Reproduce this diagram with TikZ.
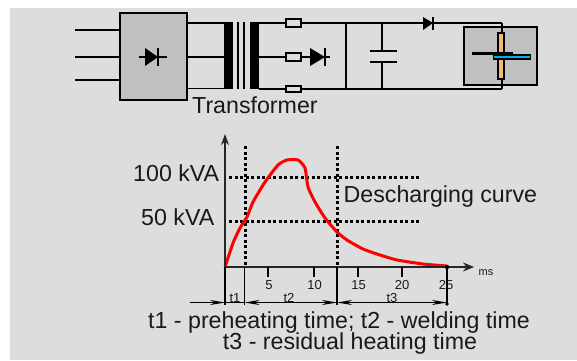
\documentclass[tikz,border=0pt]{standalone}
\usepackage{fontspec}
\setmainfont{Liberation Sans}
\usetikzlibrary{arrows.meta}
\definecolor{bggray}{HTML}{DDDDDD}
\definecolor{boxgray}{HTML}{C0C0C0}
\definecolor{plate}{HTML}{F5B874}
\definecolor{tip}{HTML}{00B0E0}
\newcommand{\fs}[1]{\fontsize{#1pt}{#1pt}\selectfont}
\tikzset{
  wire/.style={draw=black,line width=1.6pt},
  graybox/.style={draw=black,line width=1.8pt,fill=boxgray,inner sep=0pt,outer sep=0pt},
  res/.style={draw=black,line width=1.6pt,fill=bggray,minimum width=15pt,inner sep=0pt,outer sep=0pt},
  corebar/.style={fill=black,inner sep=0pt,outer sep=0pt,minimum width=9pt,minimum height=67pt},
  dio/.style={fill=black},
  label/.style={inner sep=0pt,text=black!90},
  big/.style={label,font=\fs{23.2}},
  small/.style={label,font=\fs{13}},
  axis/.style={draw=black!85,line width=1.7pt},
  dots/.style={draw=black,line width=3pt,dash pattern=on 3pt off 2.5pt},
  spanline/.style={draw=black,line width=1.7pt},
  tick/.style={draw=black,line width=1.7pt}
}
\begin{document}
\begin{tikzpicture}[x=1pt,y=-1pt]
\useasboundingbox (0,0) rectangle (577,360);
\fill[bggray] (10,8) rectangle (577,360);
% rectifier
\node[graybox,minimum width=67pt,minimum height=87pt] (rect) at (153.5,56.5) {};
\coordinate (inA) at (75,30); \coordinate (inB) at (75,57); \coordinate (inC) at (75,80);
\draw[wire] (inA) -- (inA -| rect.west);
\draw[wire] (inB) -- (inB -| rect.west);
\draw[wire] (inC) -- (inC -| rect.west);
\coordinate (dl) at (139,57); \coordinate (dr) at (167,57);
\draw[wire] (dl) -- (dr);
\fill[dio] (145,48) -- (158,57) -- (145,66) -- cycle;
\draw[line width=1.7pt] (158,48) -- (158,66);
% transformer
\node[corebar] (coreL) at (228.5,55.5) {};
\node[corebar] (coreR) at (254.5,55.5) {};
\coordinate (mid1t) at (238,22); \coordinate (mid1b) at (238,89);
\coordinate (mid2t) at (244,22); \coordinate (mid2b) at (244,89);
\draw[wire] (mid1t) -- (mid1b);
\draw[wire] (mid2t) -- (mid2b);
\coordinate (rt) at (187,23); \coordinate (rb) at (187,88.5);
\draw[wire] (rt) -- (rt -| coreL.west);
\draw[wire] (rect.east |- inB) -- (inB -| coreL.west);
\draw[wire] (rb) -- (rb -| coreL.west);
% resistors
\node[res,minimum height=8pt] (r1) at (293.5,23) {};
\node[res,minimum height=8pt] (r2) at (293.5,57) {};
\node[res,minimum height=6pt] (r3) at (293.5,89) {};
\draw[wire] (coreR.east |- r1) -- (r1.west);
\draw[wire] (coreR.east |- r2) -- (r2.west);
\draw[wire] (coreR.east |- r3) -- (r3.west);
% mid diode
\coordinate (d2end) at (330,57);
\draw[wire] (r2.east) -- (d2end);
\fill[dio] (310,48) -- (325,57) -- (310,66) -- cycle;
\draw[line width=1.7pt] (325,48) -- (325,66);
% bus
\coordinate (busT) at (502,23); \coordinate (busB) at (502,89);
\draw[wire] (r1.east) -- (busT);
\draw[wire] (r3.east) -- (busB);
\coordinate (barT) at (346,23); \coordinate (barB) at (346,89);
\draw[wire] (barT) -- (barB);
% capacitor
\coordinate (capT) at (382,23); \coordinate (capB) at (382,89);
\coordinate (cap1) at (382,51); \coordinate (cap2) at (382,62);
\draw[wire] (capT) -- (cap1);
\draw[wire] (cap2) -- (capB);
\draw[line width=1.7pt] (370,51) -- (397,51);
\draw[line width=1.7pt] (370,62) -- (397,62);
% top diode
\fill[dio] (423,17) -- (433,23) -- (423,30) -- cycle;
\draw[line width=1.7pt] (433,17) -- (433,30);
% welder
\node[graybox,minimum width=73pt,minimum height=58pt] (weld) at (500.5,56) {};
\node[draw=black,line width=1.7pt,fill=plate,minimum width=6pt,minimum height=46pt,inner sep=0pt] (elec) at (501,56) {};
\draw[wire] (busT) -- (elec.north -| busT);
\draw[wire] (busB) -- (elec.south -| busB);
\draw[line width=3pt,black] (472,53.5) -- (513,53.5);
\node[draw=black,line width=1.7pt,fill=tip,minimum width=37pt,minimum height=3.5pt,inner sep=0pt] (sheet) at (512,57) {};
% Transformer label
\node[big,anchor=base west] (tr) at (192,113) {Transformer};
% axes
\coordinate (org) at (225,267);
\coordinate (ytop) at (225,134);
\coordinate (xend) at (474,267);
% dotted
\coordinate (v1t) at (245,146); \coordinate (v1b) at (245,267);
\coordinate (v2t) at (337,146); \coordinate (v2b) at (337,267);
\coordinate (h1l) at (229,177); \coordinate (h1r) at (419,177);
\coordinate (h2l) at (229,221); \coordinate (h2r) at (419,221);
\draw[dots] (v1t) -- (v1b);
\draw[dots] (v2t) -- (v2b);
\draw[dots] (h1l) -- (h1r);
\draw[dots] (h2l) -- (h2r);
% curve
\draw[red,line width=3pt,line join=round] plot[smooth,tension=0.35] coordinates {
(225,267) (233,243) (240,228) (247,217) (253,202) (265,182) (278,165) (287,160) (298,160) (305,168) (308,187) (315,202) (325,218) (337,232) (347,240) (363,249) (380,255) (397,260) (423,264) (447,266)};
\draw[axis,-{Stealth[length=11pt,width=8pt]}] (org) -- (ytop);
\draw[axis,-{Stealth[length=11pt,width=9pt]}] (org) -- (xend);
% ticks
\foreach \x/\n in {268/a,314/b,358/c,402/d}{
  \coordinate (tk\n) at (\x,267);
  \draw[tick] (tk\n) -- ++(0,10);
}
\node[small,anchor=base] (n5) at (269,289) {5};
\node[small,anchor=base] (n10) at (314.5,289) {10};
\node[small,anchor=base] (n15) at (358.5,289) {15};
\node[small,anchor=base] (n20) at (402,289) {20};
\node[small,anchor=base] (n25) at (446,289) {25};
\node[label,font=\fs{11},anchor=west] (ms) at (478.5,273) {ms};
% spans
\coordinate (s0) at (225,267); \coordinate (s1) at (244.5,267);
\coordinate (s2) at (337,267); \coordinate (s3) at (447,267);
\foreach \c in {s0,s1,s2,s3}{ \draw[spanline] (\c) -- ++(0,38); }
\coordinate (b0) at (225,302.5); \coordinate (b1) at (244.5,302.5);
\coordinate (b2) at (337,302.5); \coordinate (b3) at (447,302.5);
\coordinate (bstart) at (190,302.5);
\draw[spanline,-{Stealth[length=15pt,width=5pt]}] (bstart) -- (b0);
\draw[spanline] (b0) -- (b1);
\draw[spanline,{Stealth[length=15pt,width=5pt]}-{Stealth[length=15pt,width=5pt]}] (b1) -- (b2);
\draw[spanline,{Stealth[length=15pt,width=5pt]}-{Stealth[length=15pt,width=5pt]}] (b2) -- (b3);
\fill (447,267) circle (2.2pt); \fill (447,304) circle (1.8pt);
\node[small,anchor=base] (t1) at (235,302) {t1};
\node[small,anchor=base] (t2) at (289,302) {t2};
\node[small,anchor=base] (t3) at (392,302) {t3};
% labels
\node[big,anchor=base west] (kva100) at (133,181) {100 kVA};
\node[big,anchor=base west] (kva50) at (141,225) {50 kVA};
\node[big,anchor=base west] (desc) at (343.5,202) {Descharging curve};
\node[big,anchor=base] (capa) at (339,328.5) {t1 - preheating time; t2 - welding time};
\node[big,anchor=base] (capb) at (350,349) {t3 - residual heating time};
\end{tikzpicture}
\end{document}
